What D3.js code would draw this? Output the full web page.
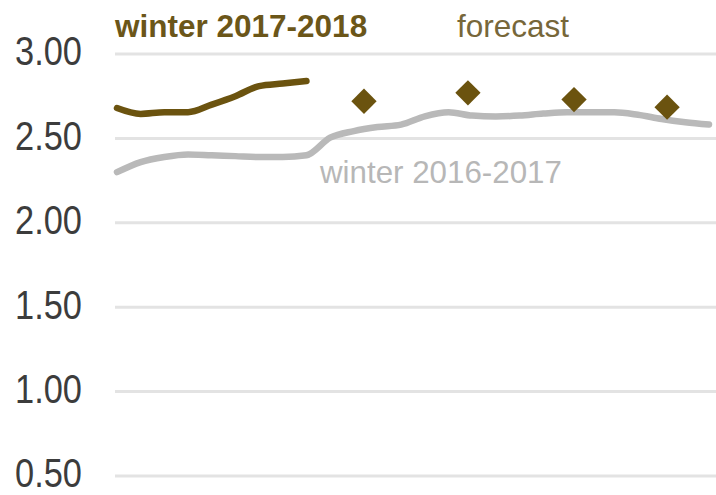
<!DOCTYPE html>
<html>
<head>
<meta charset="utf-8">
<script src="https://cdn.jsdelivr.net/npm/d3@7/dist/d3.min.js"></script>
<style>
  body { margin: 0; background: #fff; }
  svg { display: block; font-family: "Liberation Sans", Arial, sans-serif; }
</style>
</head>
<body>
<div id="chart"></div>
<script>
// week index since start of October
const weeks = d3.range(0, 26);

// winter 2016-2017, weekly
const winter1617 = [2.30, 2.36, 2.39, 2.405, 2.40, 2.395, 2.39, 2.39, 2.40, 2.504,
  2.543, 2.567, 2.582, 2.631, 2.655, 2.635, 2.63, 2.635, 2.647, 2.655,
  2.655, 2.655, 2.64, 2.615, 2.596, 2.582];

// winter 2017-2018, weekly so far
const winter1718 = [2.68, 2.645, 2.655, 2.655, 2.70, 2.75, 2.81, 2.825, 2.84];

// monthly forecast (mid-month, in weeks)
const forecastWeek = [10.43, 14.82, 19.3, 23.23];
const forecastValue = [2.72, 2.77, 2.73, 2.685];

const yTicks = [0.5, 1.0, 1.5, 2.0, 2.5, 3.0];

const width = 716, height = 495;
const brown = "#6b530f";
const grey = "#b9b9b9";

const svg = d3.select("#chart").append("svg")
    .attr("width", width)
    .attr("height", height);

const x = d3.scaleLinear().domain([0, 25]).range([117, 709]);
const y = d3.scaleLinear().domain([0.5, 3.0]).range([476, 54]);

// gridlines
svg.append("g")
  .selectAll("line")
  .data(yTicks)
  .join("line")
    .attr("x1", 115)
    .attr("x2", width)
    .attr("y1", d => y(d))
    .attr("y2", d => y(d))
    .attr("stroke", "#e3e3e3")
    .attr("stroke-width", 3);

// y axis labels
const yAxis = svg.append("g")
    .attr("transform", "translate(82,0)")
    .call(d3.axisLeft(y).tickValues(yTicks).tickFormat(d3.format(".2f")).tickSize(0));
yAxis.select(".domain").remove();
yAxis.selectAll("text")
    .attr("x", 0)
    .attr("dy", "0.27em")
    .attr("transform", "scale(0.86,1)")
    .style("font-size", "40px")
    .style("font-family", "'Liberation Sans', Arial, sans-serif")
    .attr("fill", "#3c3c3c");

const line = d3.line()
    .x((d, i) => x(weeks[i]))
    .y(d => y(d))
    .curve(d3.curveMonotoneX);

svg.append("path")
    .datum(winter1617)
    .attr("fill", "none")
    .attr("stroke", grey)
    .attr("stroke-width", 6.5)
    .attr("stroke-linecap", "round")
    .attr("d", line);

svg.append("path")
    .datum(winter1718)
    .attr("fill", "none")
    .attr("stroke", brown)
    .attr("stroke-width", 6.5)
    .attr("stroke-linecap", "round")
    .attr("d", line);

// forecast diamonds
svg.append("g")
  .selectAll("path")
  .data(forecastValue)
  .join("path")
    .attr("d", d3.symbol().type(d3.symbolSquare).size(320))
    .attr("transform", (d, i) => `translate(${x(forecastWeek[i])},${y(d)}) rotate(45)`)
    .attr("fill", brown);

// labels
svg.append("text")
    .attr("x", 115)
    .attr("y", 37)
    .style("font-size", "31.5px")
    .style("font-weight", "bold")
    .attr("fill", "#6b5619")
    .text("winter 2017-2018");

svg.append("text")
    .attr("x", 457)
    .attr("y", 37)
    .style("font-size", "31.5px")
    .attr("fill", "#77673a")
    .text("forecast");

svg.append("text")
    .attr("x", 320)
    .attr("y", 183)
    .style("font-size", "31.3px")
    .attr("fill", "#b7b7b7")
    .text("winter 2016-2017");
</script>
</body>
</html>
